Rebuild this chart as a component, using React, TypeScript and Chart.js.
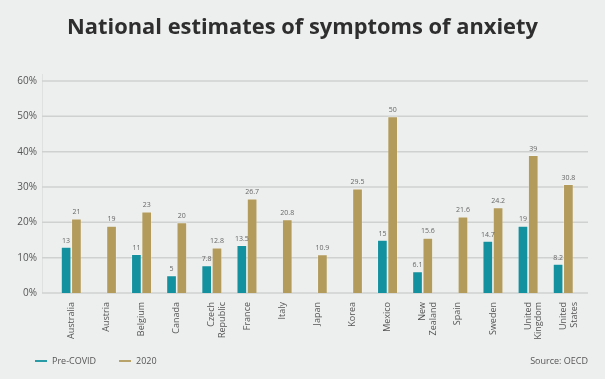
import React, { useEffect, useRef } from "react";
import { Chart, registerables } from "chart.js";

Chart.register(...registerables);

const categories: (string | string[])[] = [
  "Australia",
  "Austria",
  "Belgium",
  "Canada",
  ["Czech", "Republic"],
  "France",
  "Italy",
  "Japan",
  "Korea",
  "Mexico",
  ["New", "Zealand"],
  "Spain",
  "Sweden",
  ["United", "Kingdom"],
  ["United", "States"],
];

const preCovid: (number | null)[] = [13, null, 11, 5, 7.8, 13.5, null, null, null, 15, 6.1, null, 14.7, 19, 8.2];
const y2020: (number | null)[] = [21, 19, 23, 20, 12.8, 26.7, 20.8, 10.9, 29.5, 50, 15.6, 21.6, 24.2, 39, 30.8];

const seriesNames = ["Pre-COVID", "2020"];
const yTicks = [0, 10, 20, 30, 40, 50, 60];

const TITLE = "National estimates of symptoms of anxiety";
const SOURCE = "Source: OECD";

const TEAL = "#13919f";
const GOLD = "#b39b5b";
const BG = "#edefee";
const FONT = "'Open Sans', 'Noto Sans', sans-serif";

const decorPlugin = {
  id: "decor",
  beforeDraw(chart: any) {
    const { ctx, width, height } = chart;
    ctx.save();
    ctx.fillStyle = BG;
    ctx.fillRect(0, 0, width, height);
    ctx.restore();
  },
  beforeDatasetsDraw(chart: any) {
    const { ctx } = chart;
    const y = chart.scales.y;
    ctx.save();
    // y axis line
    ctx.strokeStyle = "#dfe1e0";
    ctx.lineWidth = 1;
    ctx.beginPath();
    ctx.moveTo(42.5, y.getPixelForValue(60) - 7);
    ctx.lineTo(42.5, y.getPixelForValue(0));
    ctx.stroke();
    // grid lines
    ctx.strokeStyle = "#cfd1d0";
    ctx.lineWidth = 1.5;
    yTicks.forEach((v) => {
      const py = y.getPixelForValue(v);
      ctx.beginPath();
      ctx.moveTo(42, py);
      ctx.lineTo(588, py);
      ctx.stroke();
    });
    ctx.restore();
  },
  afterDatasetsDraw(chart: any) {
    const { ctx } = chart;
    ctx.save();
    // data labels
    ctx.font = `7px ${FONT}`;
    ctx.fillStyle = "#666";
    ctx.textAlign = "center";
    ctx.textBaseline = "bottom";
    chart.data.datasets.forEach((ds: any, di: number) => {
      const meta = chart.getDatasetMeta(di);
      meta.data.forEach((bar: any, i: number) => {
        const v = ds.data[i];
        if (v === null || v === undefined) return;
        ctx.fillText(String(v), bar.x, bar.y - 3);
      });
    });

    // title
    ctx.fillStyle = "#2e2e2e";
    ctx.textBaseline = "alphabetic";
    let size = 23;
    ctx.font = `bold ${size}px ${FONT}`;
    const w = ctx.measureText(TITLE).width;
    size = size * (471 / w);
    ctx.font = `bold ${size}px ${FONT}`;
    ctx.textAlign = "center";
    ctx.fillText(TITLE, 302.5, 34);

    // legend
    ctx.font = `9px ${FONT}`;
    ctx.textAlign = "left";
    ctx.textBaseline = "middle";
    const items = [
      { x: 35, color: TEAL, label: seriesNames[0] },
      { x: 119, color: GOLD, label: seriesNames[1] },
    ];
    items.forEach((it) => {
      ctx.strokeStyle = it.color;
      ctx.lineWidth = 1.8;
      ctx.beginPath();
      ctx.moveTo(it.x, 361);
      ctx.lineTo(it.x + 12, 361);
      ctx.stroke();
      ctx.fillStyle = "#555";
      ctx.fillText(it.label, it.x + 17, 361);
    });
    ctx.textAlign = "right";
    ctx.fillText(SOURCE, 588, 361);
    ctx.restore();
  },
};

export default function App() {
  const ref = useRef<HTMLCanvasElement | null>(null);

  useEffect(() => {
    if (!ref.current) return;
    const chart = new Chart(ref.current, {
      type: "bar",
      data: {
        labels: categories,
        datasets: [
          {
            label: seriesNames[0],
            data: preCovid,
            backgroundColor: TEAL,
            borderColor: "rgba(255,255,255,0.35)",
            borderWidth: 0.8,
            categoryPercentage: 0.586,
            barPercentage: 1,
          },
          {
            label: seriesNames[1],
            data: y2020,
            backgroundColor: GOLD,
            borderColor: "rgba(255,255,255,0.35)",
            borderWidth: 0.8,
            categoryPercentage: 0.586,
            barPercentage: 1,
          },
        ],
      },
      options: {
        responsive: false,
        animation: false,
        layout: { padding: { top: 81, left: 0, right: 24.2, bottom: 0 } },
        plugins: {
          legend: { display: false },
          title: { display: false },
          tooltip: { enabled: false },
        },
        scales: {
          x: {
            grid: { display: false, drawTicks: false },
            border: { display: false },
            ticks: {
              autoSkip: false,
              minRotation: 90,
              maxRotation: 90,
              padding: 9,
              color: "#555",
              font: { family: FONT, size: 9 },
            },
            afterFit: (s: any) => {
              s.height = 86;
            },
          },
          y: {
            min: 0,
            max: 60,
            grid: { display: false, drawTicks: false },
            border: { display: false },
            ticks: {
              stepSize: 10,
              padding: 16.7,
              color: "#555",
              font: { family: FONT, size: 10 },
              callback: (v: any) => `${v}%`,
            },
            afterFit: (s: any) => {
              s.width = 53.7;
            },
          },
        },
      },
      plugins: [decorPlugin],
    });
    return () => chart.destroy();
  }, []);

  return (
    <div style={{ position: "absolute", left: 0, top: 0, width: 605, height: 379, background: BG }}>
      <canvas ref={ref} width={605} height={379} style={{ display: "block" }} />
    </div>
  );
}
